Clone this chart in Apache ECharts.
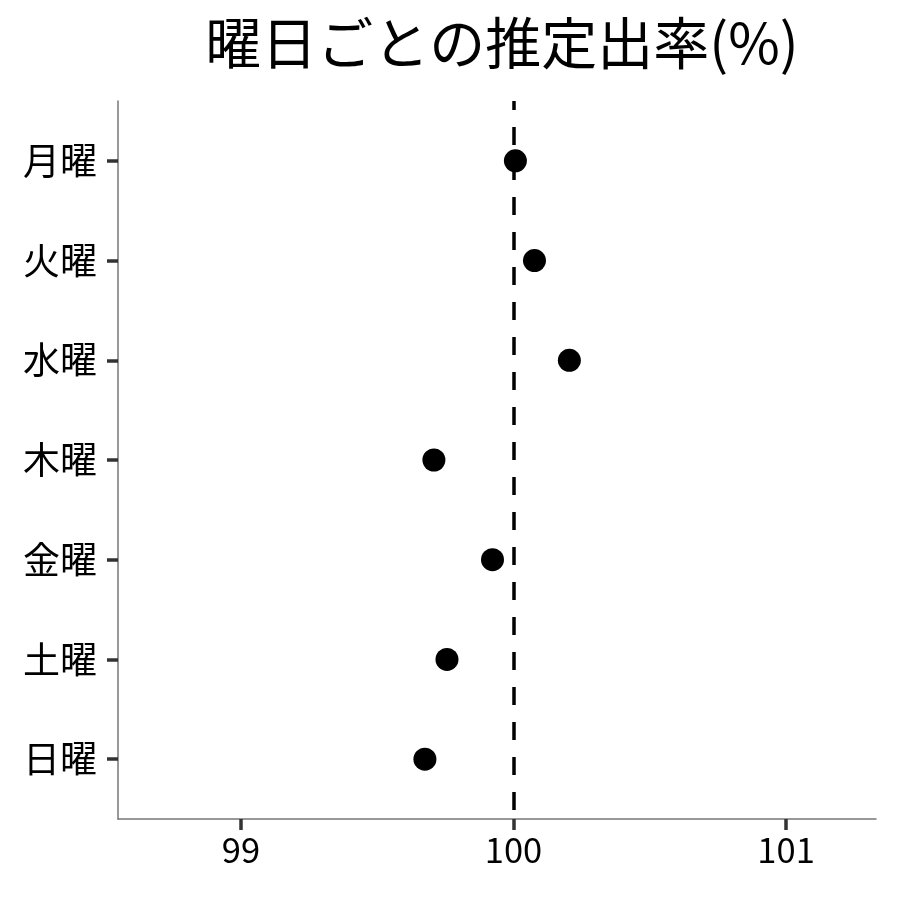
<!DOCTYPE html>
<html><head><meta charset="utf-8">
<script src="https://cdn.jsdelivr.net/npm/echarts@6/dist/echarts.min.js"></script>
<style>html,body{margin:0;padding:0;background:#fff}#c{width:900px;height:900px}</style>
</head><body><div id="c"></div>
<script>
const title = "曜日ごとの推定出率(%)";
const categories = ["月曜","火曜","水曜","木曜","金曜","土曜","日曜"];
const values = [100.007, 100.077, 100.205, 99.708, 99.923, 99.756, 99.675];
const xTicks = [99, 100, 101];
const refValue = 100;

const FONT = '"Noto Sans CJK JP","Noto Sans",sans-serif';
const chart = echarts.init(document.getElementById('c'), null, {renderer:'canvas'});
chart.setOption({
  backgroundColor:'#fff',
  animation:false,
  title:{text:title,left:497,textAlign:'center',top:10,textStyle:{fontFamily:FONT,fontSize:56,fontWeight:'normal',color:'#000'}},
  grid:{left:118,right:24,top:101,bottom:81,containLabel:false},
  xAxis:{type:'value',min:98.549,max:101.33,
    axisLine:{show:true,lineStyle:{color:'#777',width:1.5}},
    axisTick:{show:true,customValues:xTicks,length:11,lineStyle:{color:'#333',width:3.5}},
    axisLabel:{customValues:xTicks,fontFamily:FONT,fontSize:34.5,color:'#000',margin:14},
    splitLine:{show:false}},
  yAxis:{type:'value',min:0.4,max:7.6,inverse:true,
    axisLine:{show:true,lineStyle:{color:'#777',width:1.5}},
    axisTick:{show:true,customValues:[1,2,3,4,5,6,7],length:11,lineStyle:{color:'#333',width:3.5}},
    axisLabel:{customValues:[1,2,3,4,5,6,7],formatter:v=>categories[Math.round(v)-1]||'',fontFamily:FONT,fontSize:37,color:'#000',margin:21},
    splitLine:{show:false}},
  series:[{type:'scatter',symbol:'circle',symbolSize:23,itemStyle:{color:'#000',opacity:1},
    data:values.map((v,i)=>[v,i+1]),
    markLine:{silent:true,symbol:'none',label:{show:false},
      lineStyle:{color:'#000',type:[18,17],dashOffset:9,width:3.5,opacity:1},
      data:[{xAxis:refValue}]}
  }]
});
</script></body></html>
